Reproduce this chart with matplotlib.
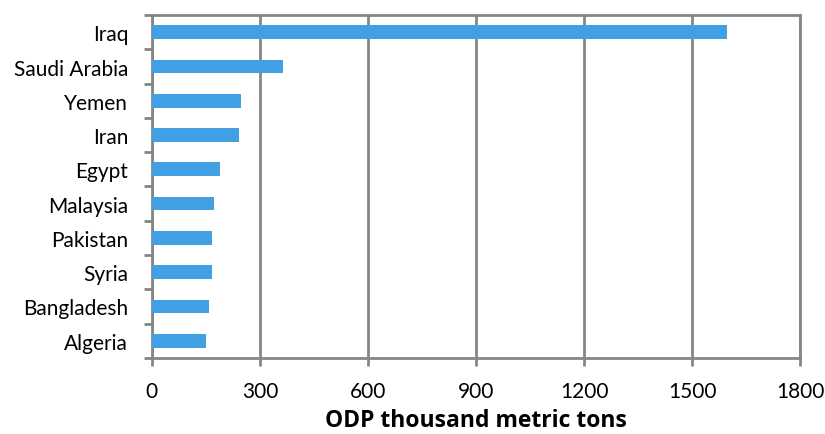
import matplotlib
matplotlib.use("Agg")
import matplotlib.pyplot as plt
import numpy as np

countries = ["Iraq", "Saudi Arabia", "Yemen", "Iran", "Egypt", "Malaysia",
             "Pakistan", "Syria", "Bangladesh", "Algeria"]
odp = [1598, 365, 248, 241, 188, 174, 167, 166, 158, 150]
xticks = [0, 300, 600, 900, 1200, 1500, 1800]

plt.rcParams['font.family'] = ['Lato', 'DejaVu Sans']
grey = "#868686"

fig = plt.figure(figsize=(8.25, 4.35), dpi=100)
ax = fig.add_axes([0.184, 0.175, 0.786, 0.788])

y = np.arange(len(countries))
ax.barh(y, odp, height=0.4, color="#41A0E4", zorder=3)
ax.set_ylim(len(countries) - 0.5, -0.5)
ax.set_xlim(0, 1800)
ax.set_xticks(xticks)
ax.set_xticklabels([str(v) for v in xticks], fontsize=15)
ax.set_yticks(y)
ax.set_yticklabels(countries, fontsize=15)
ax.set_yticks(np.arange(-0.5, len(countries)), minor=True)
ax.tick_params(axis='y', which='major', length=0, pad=17)
ax.tick_params(axis='y', which='minor', length=6, width=2, color=grey)
ax.tick_params(axis='x', length=6, width=2, color=grey, pad=11)
ax.grid(axis='x', color=grey, linewidth=2, zorder=1)
for s in ax.spines.values():
    s.set_color(grey)
    s.set_linewidth(2)
ax.set_xlabel("ODP thousand metric tons", fontsize=16.5, fontweight='bold',
              family=['Open Sans', 'DejaVu Sans'], labelpad=5)

fig.savefig("out.png", dpi=100)
